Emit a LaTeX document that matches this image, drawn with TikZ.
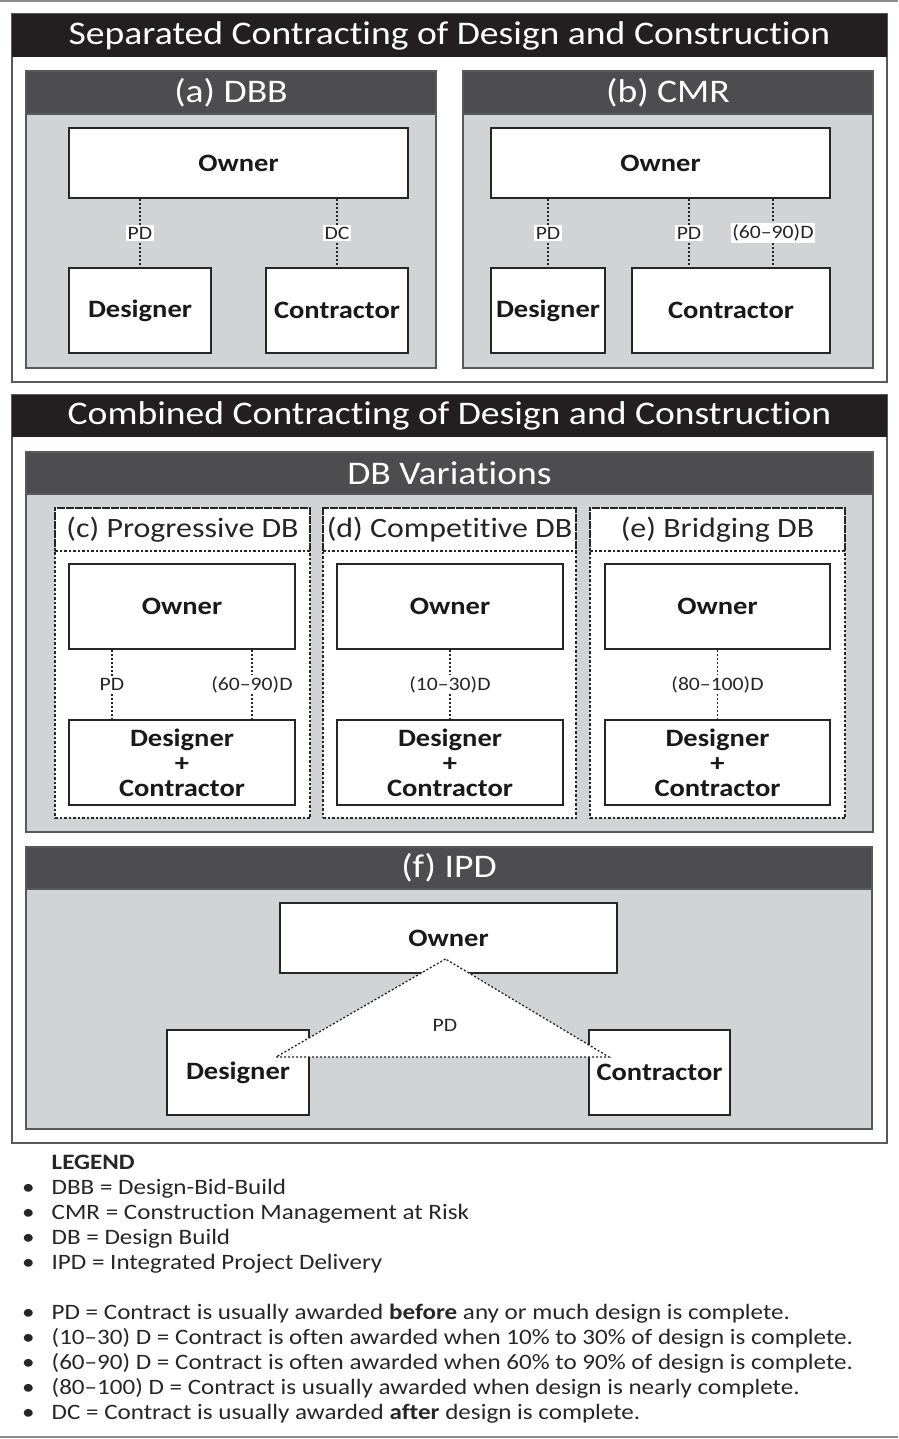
\documentclass[tikz,border=0pt]{standalone}
\usepackage{fontspec}
\setmainfont{Carlito}[FakeStretch=1.14, Ligatures=NoCommon]
\usepackage{tikz}
\usetikzlibrary{calc}

\definecolor{barblack}{HTML}{231F20}
\definecolor{headgray}{HTML}{4D4D4F}
\definecolor{bodygray}{HTML}{D1D3D4}
\definecolor{framegray}{HTML}{58595B}
\newcommand{\bigsize}{\fontsize{33}{38}\selectfont}
\newcommand{\varsize}{\fontsize{28}{32}\selectfont}
\newcommand{\partysize}{\fontsize{25}{25}\selectfont}
\newcommand{\tiesize}{\fontsize{19}{21}\selectfont}
\newcommand{\legendsize}{\fontsize{22}{25}\selectfont}

\begin{document}
\begin{tikzpicture}[
    x=1pt, y=-1pt,
    sectionframe/.style={
        draw=framegray,
        fill=white,
        line width=2.5pt,
        minimum width=875
    },
    sectionbar/.style={
        fill=barblack,
        text=white,
        font=\bigsize,
        minimum width=875,
        minimum height=43,
        inner sep=0pt
    },
    panelbody/.style={
        draw=framegray,
        fill=bodygray,
        line width=2pt
    },
    panelhead/.style={
        draw=framegray,
        fill=headgray,
        text=white,
        font=\bigsize,
        line width=2pt,
        minimum height=43,
        inner sep=0pt
    },
    variantbox/.style={
        draw=black!85,
        fill=white,
        line width=1.5pt,
        dash pattern=on 2.5pt off 2pt,
        minimum height=310
    },
    varianthead/.style={
        draw=black!85,
        line width=1.5pt,
        dash pattern=on 2.5pt off 2pt,
        font=\varsize,
        text=black!85,
        minimum height=43,
        inner sep=0pt
    },
    party/.style={
        draw=black!85,
        fill=white,
        line width=2pt,
        font=\partysize\bfseries,
        text=black!90,
        align=center,
        inner sep=0pt
    },
    tie/.style={draw=black!85, line width=1.6pt, dash pattern=on 2pt off 2pt},
    tielabel/.style={fill=white, font=\tiesize, text=black!85, inner sep=1.5pt}
]
\useasboundingbox (0,0) rectangle (898,1439);
\draw[black!45, line width=2pt] (0,1) -- (898,1);
\draw[black!45, line width=2pt] (0,1437) -- (898,1437);

% separated contracting
\node[sectionframe, minimum height=368] (sepframe) at (449.5,198) {};
\node[sectionbar] (sepbar) at (449.5,35.5) {Separated Contracting of Design and Construction};

\node[panelbody, minimum width=410, minimum height=297] (dbbbody) at (231,219.5) {};
\node[panelhead, minimum width=410] (dbbhead) at (231,92.5) {(a) DBB};
\node[party, minimum width=339, minimum height=70] (ownerA) at (238.5,163) {Owner};
\node[party, minimum width=142, minimum height=85] (designerA) at (140,310.5) {Designer};
\node[party, minimum width=142, minimum height=85] (contractorA) at (337,310.5) {Contractor};
\draw[tie] (ownerA.south -| designerA.north) -- node[tielabel] (tieApd) {PD} (designerA.north);
\draw[tie] (ownerA.south -| contractorA.north) -- node[tielabel] (tieAdc) {DC} (contractorA.north);

\node[panelbody, minimum width=410, minimum height=297] (cmrbody) at (668,219.5) {};
\node[panelhead, minimum width=410] (cmrhead) at (668,92.5) {(b) CMR};
\node[party, minimum width=339, minimum height=70] (ownerB) at (660.5,163) {Owner};
\node[party, minimum width=114, minimum height=85] (designerB) at (548,310.5) {Designer};
\node[party, minimum width=198, minimum height=85] (contractorB) at (731,310.5) {Contractor};
\coordinate (cmrleft) at ([xshift=-42pt]contractorB.north);
\coordinate (cmrright) at ([xshift=42pt]contractorB.north);
\draw[tie] (ownerB.south -| designerB.north) -- node[tielabel] (tieBpd) {PD} (designerB.north);
\draw[tie] (ownerB.south -| cmrleft) -- node[tielabel] (tieBpd2) {PD} (cmrleft);
\draw[tie] (ownerB.south -| cmrright) -- node[tielabel] (tieBd) {(60–90)D} (cmrright);

% combined contracting
\node[sectionframe, minimum height=748] (combframe) at (449.5,769) {};
\node[sectionbar, minimum height=42] (combbar) at (449.5,416) {Combined Contracting of Design and Construction};

\node[panelbody, minimum width=847, minimum height=380] (dbbody) at (449.5,642) {};
\node[panelhead, minimum width=847, minimum height=42] (dbhead) at (449.5,473) {DB Variations};

\node[variantbox, minimum width=255] (varC) at (182.5,663) {};
\node[varianthead, minimum width=255, anchor=north] (varChead) at (varC.north) {(c) Progressive DB};
\node[party, minimum width=226, minimum height=85] (ownerC) at (182,606.5) {Owner};
\node[party, minimum width=226, minimum height=85] (teamC) at (182,762.5) {Designer\\+\\Contractor};
\coordinate (progleft) at ([xshift=-70pt]teamC.north);
\coordinate (progright) at ([xshift=70pt]teamC.north);
\draw[tie] (ownerC.south -| progleft) -- node[tielabel] (tieCpd) {PD} (progleft);
\draw[tie] (ownerC.south -| progright) -- node[tielabel] (tieCd) {(60–90)D} (progright);

\node[variantbox, minimum width=253] (varD) at (449.5,663) {};
\node[varianthead, minimum width=253, anchor=north] (varDhead) at (varD.north) {(d) Competitive DB};
\node[party, minimum width=226, minimum height=85] (ownerD) at (450,606.5) {Owner};
\node[party, minimum width=226, minimum height=85] (teamD) at (450,762.5) {Designer\\+\\Contractor};
\draw[tie] (ownerD.south) -- node[tielabel] (tieDd) {(10–30)D} (teamD.north);

\node[variantbox, minimum width=255] (varE) at (717.5,663) {};
\node[varianthead, minimum width=255, anchor=north] (varEhead) at (varE.north) {(e) Bridging DB};
\node[party, minimum width=225, minimum height=85] (ownerE) at (717.5,606.5) {Owner};
\node[party, minimum width=225, minimum height=85] (teamE) at (717.5,762.5) {Designer\\+\\Contractor};
\draw[tie] (ownerE.south) -- node[tielabel] (tieEd) {(80–100)D} (teamE.north);

\node[panelbody, minimum width=846, minimum height=282] (ipdbody) at (449,988) {};
\node[panelhead, minimum width=846, minimum height=42] (ipdhead) at (449,868) {(f) IPD};
\node[party, minimum width=337, minimum height=70] (ownerF) at (448.5,938) {Owner};
\node[party, minimum width=142, minimum height=85] (designerF) at (238,1072.5) {Designer};
\node[party, minimum width=141, minimum height=85] (contractorF) at (659.5,1072.5) {Contractor};
\coordinate (ipdtop) at ($(ownerF.south)+(-3,-15)$);
\coordinate (ipdleft) at ($(designerF.north east)+(-34,28)$);
\coordinate (ipdright) at ($(contractorF.north west)+(21,28)$);
\draw[tie, fill=white, line width=1.3pt] (ipdtop) -- (ipdleft) -- (ipdright) -- cycle;
\node[font=\tiesize, text=black!85] (tieFpd) at (445,1025) {PD};

% legend
\node[anchor=north west, font=\legendsize, text=black!85, inner sep=0pt] (legendlist) at (22,1152) {%
\begin{tabular}{@{}c@{\hspace{17pt}}l@{}}
 & \textbf{LEGEND}\\
\textbullet & DBB = Design-Bid-Build\\
\textbullet & CMR = Construction Management at Risk\\
\textbullet & DB = Design Build\\
\textbullet & IPD = Integrated Project Delivery\\[25pt]
\textbullet & PD = Contract is usually awarded \textbf{before} any or much design is complete.\\
\textbullet & (10–30) D = Contract is often awarded when 10\% to 30\% of design is complete.\\
\textbullet & (60–90) D = Contract is often awarded when 60\% to 90\% of design is complete.\\
\textbullet & (80–100) D = Contract is usually awarded when design is nearly complete.\\
\textbullet & DC = Contract is usually awarded \textbf{after} design is complete.
\end{tabular}};
\end{tikzpicture}
\end{document}
